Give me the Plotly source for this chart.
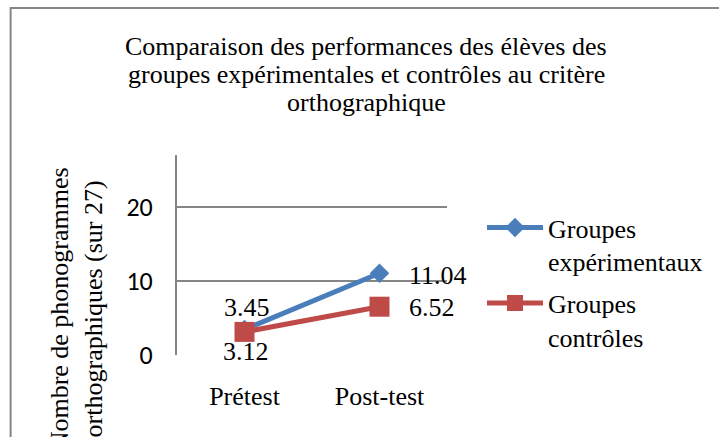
import plotly.graph_objects as go

categories = ["Prétest", "Post-test"]
exp_values = [3.45, 11.04]
ctrl_values = [3.12, 6.52]
exp_name = "Groupes<br>expérimentaux"
ctrl_name = "Groupes<br>contrôles"
title_lines = ["Comparaison des performances des élèves des",
               "groupes expérimentales et contrôles au critère",
               "orthographique"]
y_title = "Nombre de phonogrammes<br>orthographiques (sur 27)"
y_ticks = [0, 10, 20]

W, H = 719, 437
L, R, T, B = 177, 448, 155, 355  # plot area in pixels

def px_x(x):
    return (x - L) / (R - L)

def px_y(y):
    return (B - y) / (B - T)

serif = "Tinos"
sans = "Carlito"
blue = "#4A7EBB"
red = "#BE4B48"
grey = "#868686"
label_font = dict(family=serif, size=26, color="black")

fig = go.Figure()
fig.add_trace(go.Scatter(
    x=categories, y=exp_values, name=exp_name, mode="lines+markers",
    legendgroup="exp",
    line=dict(color=blue, width=5),
    marker=dict(symbol="diamond", size=15, color=blue),
    cliponaxis=False,
))
fig.add_trace(go.Scatter(
    x=categories, y=ctrl_values, name=ctrl_name, mode="lines+markers",
    legendgroup="ctrl",
    line=dict(color=red, width=5),
    marker=dict(symbol="square", size=20, color=red),
    cliponaxis=False,
))

annotations = []
# data labels (placed at data coordinates)
annotations.append(dict(x=categories[0], y=exp_values[0], text=f"{exp_values[0]:.2f}",
                        xshift=2, yshift=22, showarrow=False, font=label_font))
annotations.append(dict(x=categories[1], y=exp_values[1], text=f"{exp_values[1]:.2f}",
                        xanchor="left", xshift=27, yshift=-2, showarrow=False, font=label_font))
annotations.append(dict(x=categories[0], y=ctrl_values[0], text=f"{ctrl_values[0]:.2f}",
                        xshift=1, yshift=-20, showarrow=False, font=label_font))
annotations.append(dict(x=categories[1], y=ctrl_values[1], text=f"{ctrl_values[1]:.2f}",
                        xanchor="left", xshift=27, yshift=-1, showarrow=False, font=label_font))

for i, line in enumerate(title_lines):
    annotations.append(dict(
        text=line, xref="paper", yref="paper",
        x=px_x(367), y=px_y(46 + 28 * i), xanchor="center", yanchor="middle",
        showarrow=False, font=dict(family=serif, size=26, color="black"),
    ))
annotations.append(dict(
    text=y_title, xref="paper", yref="paper", textangle=-90,
    x=px_x(76), y=px_y(309), xanchor="center", yanchor="middle",
    showarrow=False, font=dict(family=serif, size=26, color="black"),
))

fig.update_layout(
    width=W, height=H,
    margin=dict(l=L, r=W - R, t=T, b=H - B, pad=0),
    paper_bgcolor="white", plot_bgcolor="white",
    showlegend=True,
    legend=dict(
        x=px_x(482), y=px_y(204), xanchor="left", yanchor="top",
        font=dict(family=serif, size=26, color="black"),
        valign="top", bgcolor="rgba(0,0,0,0)", tracegroupgap=5,
        itemwidth=56,
    ),
    annotations=annotations,
    shapes=[dict(type="rect", xref="paper", yref="paper",
                 x0=px_x(10), y0=px_y(460), x1=px_x(760), y1=px_y(8),
                 line=dict(color=grey, width=2), layer="below")],
    xaxis=dict(
        type="category", range=[-0.5, 1.5], showgrid=False,
        showline=False, zeroline=False, ticks="",
        tickfont=dict(family=serif, size=26, color="black"),
        ticklabelstandoff=23,
    ),
    yaxis=dict(
        range=[0, 27], tickvals=y_ticks, showgrid=True, gridcolor=grey, gridwidth=2,
        zeroline=False, showline=True, linecolor=grey, linewidth=2, ticks="",
        tickfont=dict(family=sans, size=26, color="black"),
        ticklabelstandoff=17,
    ),
)

fig.write_html("out.html", config={"displayModeBar": False},
               post_script="document.body.style.margin='0';document.body.style.overflow='hidden';")
